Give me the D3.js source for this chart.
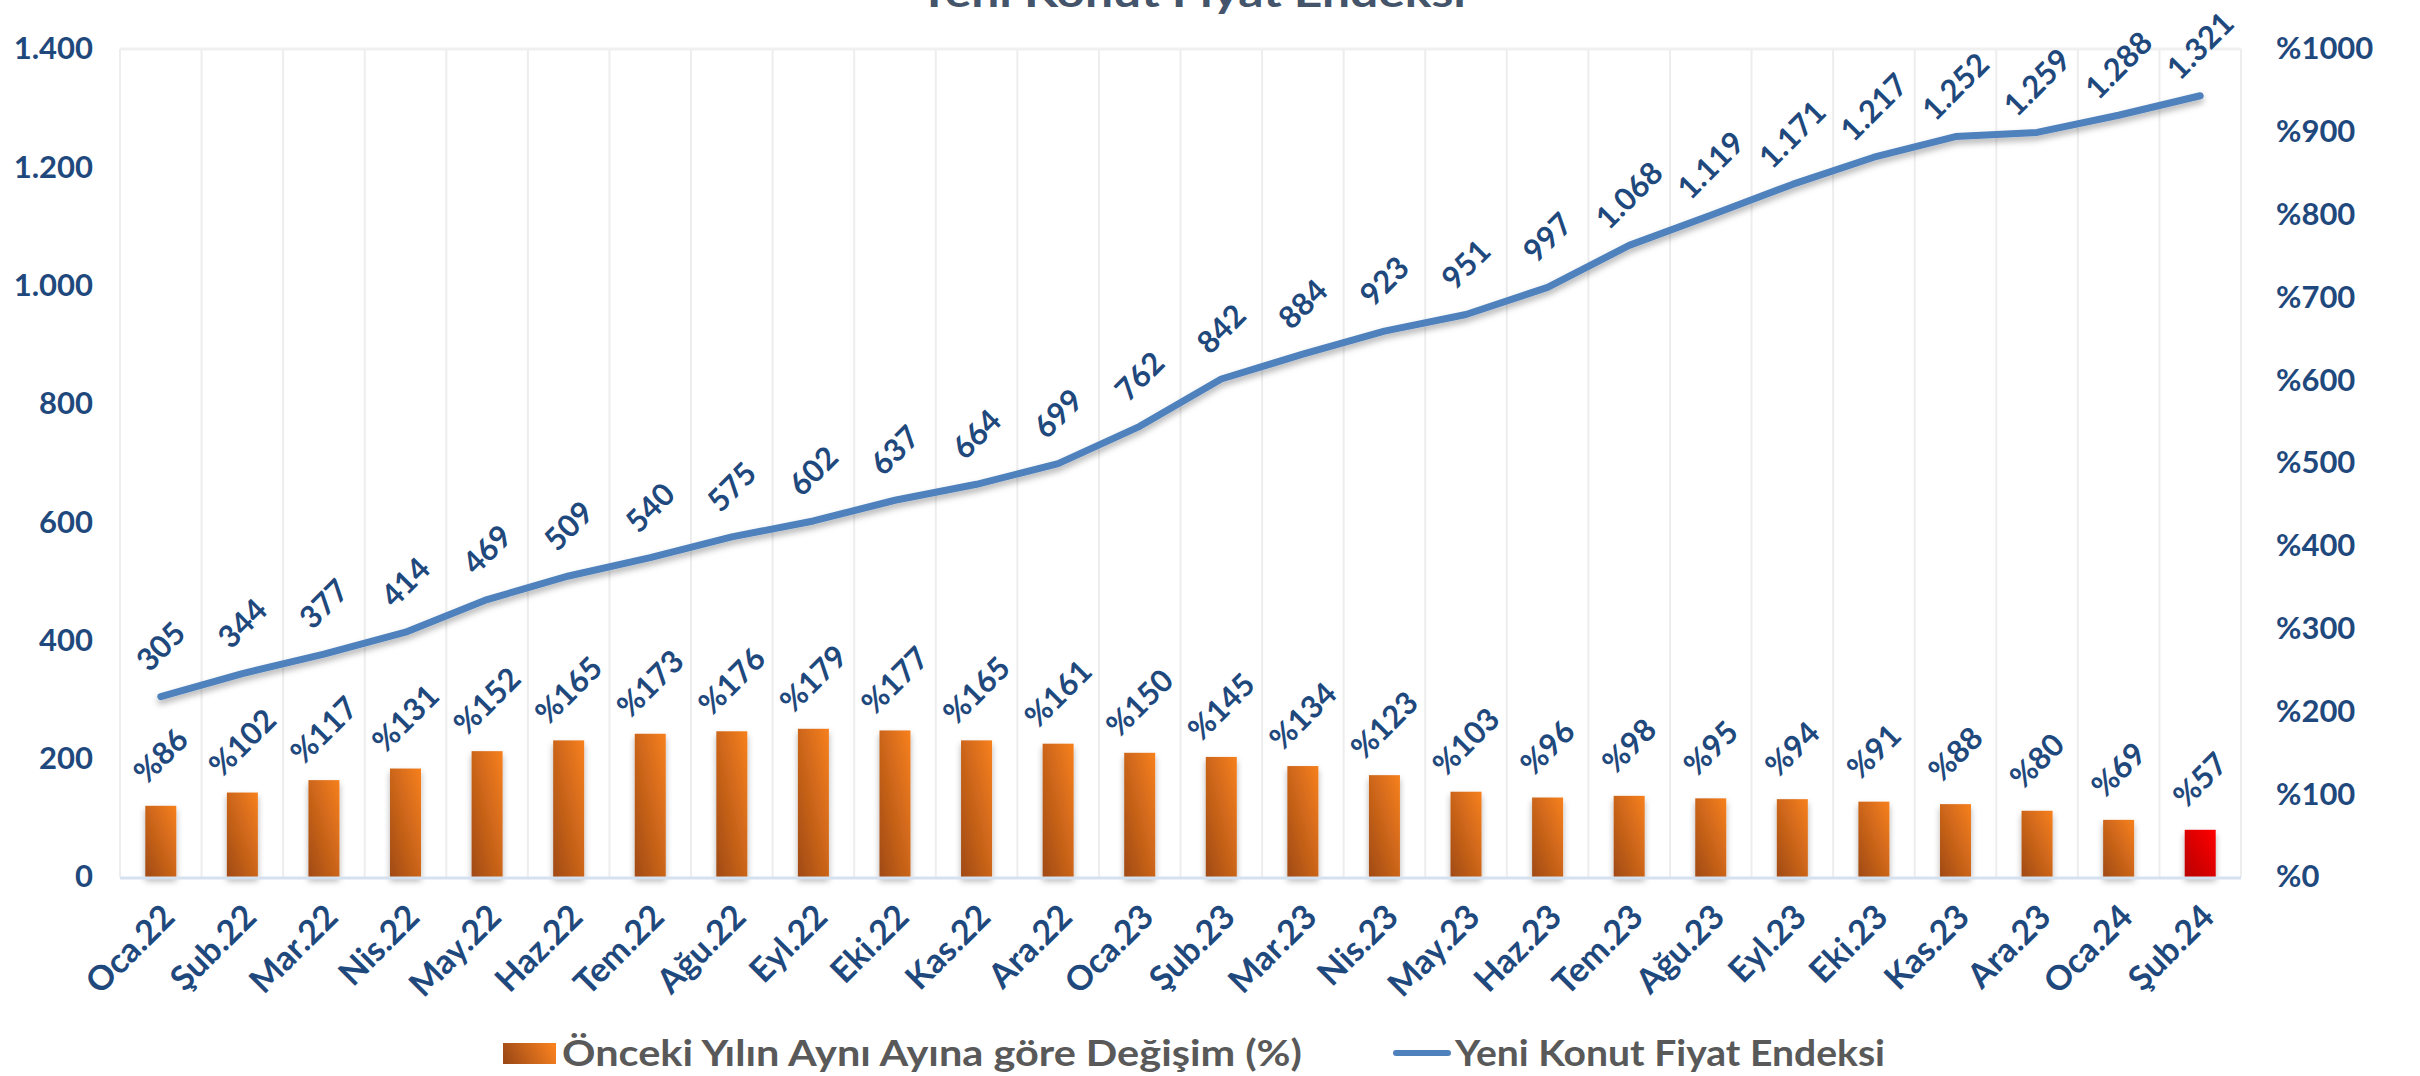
<!DOCTYPE html>
<html><head><meta charset="utf-8">
<script src="https://cdn.jsdelivr.net/npm/d3@7"></script>
<style>
html,body{margin:0;padding:0;background:#fff;}
svg{display:block;}
text{font-family:"Lato","Open Sans",sans-serif;}
</style></head>
<body>
<svg id="chart" width="2420" height="1076"></svg>
<script>
const categories = ["Oca.22","Şub.22","Mar.22","Nis.22","May.22","Haz.22","Tem.22","Ağu.22","Eyl.22","Eki.22","Kas.22","Ara.22",
  "Oca.23","Şub.23","Mar.23","Nis.23","May.23","Haz.23","Tem.23","Ağu.23","Eyl.23","Eki.23","Kas.23","Ara.23","Oca.24","Şub.24"];
const indexValues = [305,344,377,414,469,509,540,575,602,637,664,699,762,842,884,923,951,997,1068,1119,1171,1217,1252,1259,1288,1321];
const changeValues = [86,102,117,131,152,165,173,176,179,177,165,161,150,145,134,123,103,96,98,95,94,91,88,80,69,57];
const leftTicks = [0,200,400,600,800,1000,1200,1400];
const rightTicks = [0,100,200,300,400,500,600,700,800,900,1000];
const title = "Yeni Konut Fiyat Endeksi";
const barLegend = "Önceki Yılın Aynı Ayına göre Değişim (%)";
const lineLegend = "Yeni Konut Fiyat Endeksi";

const svg = d3.select("#chart");
const L = 120, R = 2241, T = 49, B = 877;
const navy = "#1F497D";
const loc = d3.formatLocale({decimal:",", thousands:".", grouping:[3], currency:["",""]});
const fmt = loc.format(",d");

const x = d3.scaleBand().domain(categories).range([L, R]).paddingInner(0).paddingOuter(0);
const yL = d3.scaleLinear().domain([0,1400]).range([B, T]);
const yR = d3.scaleLinear().domain([0,1000]).range([B, T]);

const defs = svg.append("defs");
function grad(id, c1, c2){
  const g = defs.append("linearGradient").attr("id", id).attr("x1",1).attr("y1",0).attr("x2",0).attr("y2",1);
  g.append("stop").attr("offset","0%").attr("stop-color",c1);
  g.append("stop").attr("offset","100%").attr("stop-color",c2);
}
grad("gOrange","#F7801F","#A04A14");
grad("gRed","#FF0000","#B80000");
const gl = defs.append("linearGradient").attr("id","gLeg").attr("x1",0).attr("y1",0.6).attr("x2",1).attr("y2",0.4);
gl.append("stop").attr("offset","0%").attr("stop-color","#9E4A16");
gl.append("stop").attr("offset","100%").attr("stop-color","#F7801F");
const f = defs.append("filter").attr("id","sh").attr("x","-20%").attr("y","-20%").attr("width","140%").attr("height","160%");
f.append("feDropShadow").attr("dx",0).attr("dy",4).attr("stdDeviation",3).attr("flood-color","#000").attr("flood-opacity",0.3);

// title (partly clipped above the canvas, as in the reference)
svg.append("text").attr("x",1192).attr("y",7).attr("text-anchor","middle")
  .attr("font-size",40).attr("font-weight",700).attr("fill","#44546A")
  .attr("textLength",548).attr("lengthAdjust","spacingAndGlyphs").text(title);

// vertical gridlines
const bounds = d3.range(categories.length+1).map(i => i===categories.length ? R : x(categories[i]));
svg.append("g").selectAll("line").data(bounds).join("line")
  .attr("x1",d=>d).attr("x2",d=>d).attr("y1",T).attr("y2",B)
  .attr("stroke","#EDEDED").attr("stroke-width",2);
svg.append("line").attr("x1",L).attr("x2",R).attr("y1",T).attr("y2",T).attr("stroke","#F0F0F0").attr("stroke-width",3);

// bars
const bw = 31;
svg.append("g").selectAll("rect").data(changeValues).join("rect")
  .attr("x",(d,i)=>x(categories[i]) + x.bandwidth()/2 - bw/2)
  .attr("width",bw)
  .attr("y",d=>yR(d)).attr("height",d=>B - yR(d))
  .attr("fill",(d,i)=> i===categories.length-1 ? "url(#gRed)" : "url(#gOrange)")
  .attr("filter","url(#sh)");

// baseline
svg.append("line").attr("x1",L).attr("x2",R).attr("y1",B+1).attr("y2",B+1).attr("stroke","#D6E1F0").attr("stroke-width",3);

// line
const line = d3.line().x((d,i)=>x(categories[i]) + x.bandwidth()/2).y(d=>yL(d));
svg.append("path").datum(indexValues).attr("d",line).attr("fill","none")
  .attr("stroke","#4F81BD").attr("stroke-width",7).attr("stroke-linecap","round").attr("stroke-linejoin","round")
  .attr("filter","url(#sh)");

// line labels
svg.append("g").selectAll("text").data(indexValues).join("text")
  .attr("transform",(d,i)=>`translate(${x(categories[i]) + x.bandwidth()/2},${yL(d)-50}) rotate(-45)`)
  .attr("text-anchor","middle").attr("dy","0.35em")
  .attr("font-size",31).attr("font-weight",700).attr("fill",navy).text(d=>fmt(d));

// bar labels
svg.append("g").selectAll("text").data(changeValues).join("text")
  .attr("transform",(d,i)=>`translate(${x(categories[i]) + x.bandwidth()/2},${yR(d)-50}) rotate(-45)`)
  .attr("text-anchor","middle").attr("dy","0.35em")
  .attr("font-size",31).attr("font-weight",700).attr("fill",navy).text(d=>"%"+d);

// axes
const axL = svg.append("g").attr("transform",`translate(${L},0)`)
  .call(d3.axisLeft(yL).tickValues(leftTicks).tickFormat(fmt).tickSize(0).tickPadding(27));
const axR = svg.append("g").attr("transform",`translate(${R},0)`)
  .call(d3.axisRight(yR).tickValues(rightTicks).tickFormat(d=>"%"+d).tickSize(0).tickPadding(35));
const axX = svg.append("g").attr("transform",`translate(0,${B})`)
  .call(d3.axisBottom(x).tickSize(0).tickPadding(0));
[axL,axR,axX].forEach(a=>{a.select(".domain").remove();
  a.selectAll("text").attr("font-family","Lato, sans-serif").attr("font-weight",700).attr("fill",navy).attr("font-size",31);});
axX.selectAll(".tick text").attr("text-anchor","end").attr("dy",0).attr("y",0).attr("font-size",34)
  .attr("transform","translate(16,42) rotate(-45)");

// legend
const lg = svg.append("g");
lg.append("rect").attr("x",503).attr("y",1043).attr("width",53).attr("height",21).attr("fill","url(#gLeg)");
lg.append("text").attr("x",562).attr("y",1066).attr("font-size",36).attr("font-weight",700).attr("fill","#595959")
  .attr("textLength",740).attr("lengthAdjust","spacingAndGlyphs").text(barLegend);
lg.append("line").attr("x1",1396).attr("x2",1448).attr("y1",1053).attr("y2",1053).attr("stroke","#4F81BD").attr("stroke-width",6).attr("stroke-linecap","round");
lg.append("text").attr("x",1455).attr("y",1066).attr("font-size",36).attr("font-weight",700).attr("fill","#595959")
  .attr("textLength",430).attr("lengthAdjust","spacingAndGlyphs").text(lineLegend);
</script>
</body></html>
